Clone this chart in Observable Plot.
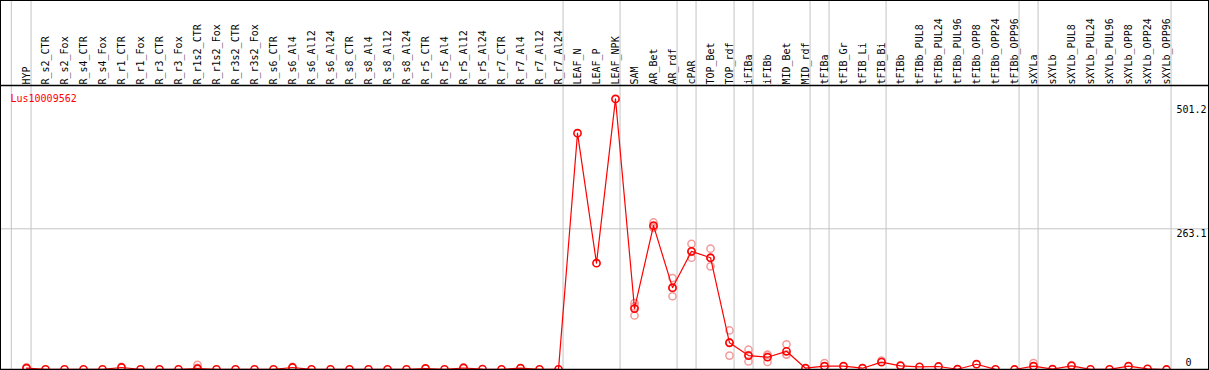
<!DOCTYPE html>
<html><head><meta charset="utf-8">
<script src="https://cdn.jsdelivr.net/npm/d3@7"></script>
<script src="https://cdn.jsdelivr.net/npm/@observablehq/plot@0.6"></script>
<style>
html,body{margin:0;padding:0;background:#fff;}
#chart svg{display:block;}
</style></head><body><div id="chart"></div>
<script>
const geneId = "Lus10009562";
const samples = ["HYP","R_s2_CTR","R_s2_Fox","R_s4_CTR","R_s4_Fox","R_r1_CTR","R_r1_Fox","R_r3_CTR","R_r3_Fox",
  "R_r1s2_CTR","R_r1s2_Fox","R_r3s2_CTR","R_r3s2_Fox","R_s6_CTR","R_s6_Al4","R_s6_Al12","R_s6_Al24",
  "R_s8_CTR","R_s8_Al4","R_s8_Al12","R_s8_Al24","R_r5_CTR","R_r5_Al4","R_r5_Al12","R_r5_Al24",
  "R_r7_CTR","R_r7_Al4","R_r7_Al12","R_r7_Al24","LEAF_N","LEAF_P","LEAF_NPK","SAM","AR_Bet","AR_rdf",
  "cPAR","TOP_Bet","TOP_rdf","iFIBa","iFIBb","MID_Bet","MID_rdf","tFIBa","tFIB_Gr","tFIB_Li","tFIB_Bi",
  "tFIBb","tFIBb_PUL8","tFIBb_PUL24","tFIBb_PUL96","tFIBb_OPP8","tFIBb_OPP24","tFIBb_OPP96",
  "sXYLa","sXYLb","sXYLb_PUL8","sXYLb_PUL24","sXYLb_PUL96","sXYLb_OPP8","sXYLb_OPP24","sXYLb_OPP96"];
const means = [2.4,0.3,0.3,0.3,0.3,3.7,0.3,0.3,0.3,
  1.5,0.3,0.3,0.3,0.3,3.7,0.3,0.3,
  0.3,0.3,0.3,0.3,1.9,0.3,2.8,0.8,
  0.3,2.4,0.3,0.3,441.9,198.8,506,114,269,153,
  221,209,50,26,23,34,2.4,6.2,6.2,2.4,13.7,
  6.9,5,5.6,0.5,9.9,0.2,0,
  6.2,0.6,6.9,0.2,0.2,6.2,1.3,0];
const repSamples = ["HYP","R_r1_CTR","R_r1s2_CTR","R_r1s2_CTR","R_s6_Al4","R_r5_Al12",
  "SAM","SAM","SAM","AR_Bet","AR_Bet","AR_Bet","AR_rdf","AR_rdf","AR_rdf",
  "cPAR","cPAR","cPAR","TOP_Bet","TOP_Bet","TOP_Bet","TOP_rdf","TOP_rdf","TOP_rdf",
  "iFIBa","iFIBa","iFIBa","iFIBb","iFIBb","iFIBb","MID_Bet","MID_Bet","MID_Bet",
  "tFIBa","tFIB_Bi","tFIBb","sXYLa","sXYLb_PUL8"];
const repValues = [4,5,8.8,3,5,4,
  124,101,118,275,267,265,171,137,152,
  235,209,220,226,193,208,73,26,51,
  37,15,27,28,14,27,47,28,28,
  11.8,16.8,8,11.8,8];
const groupEndsAfter = ["HYP","R_r7_Al24","LEAF_NPK","AR_rdf","cPAR","TOP_rdf","iFIBa","MID_rdf",
  "tFIBa","tFIB_Bi","tFIBb_OPP96","sXYLa","sXYLb_OPP96"];
const yTickValues = [501.2, 263.1, 0];
const yTickLabels = ["501.2", "263.1", "0"];

const meanData = samples.map((s, i) => ({i, s, v: means[i]}));
const repData = repSamples.map((s, k) => ({i: samples.indexOf(s), v: repValues[k]}));
const sepData = [-0.8, ...groupEndsAfter.map(s => samples.indexOf(s) + 0.24)];
const tick = (k) => ({v: yTickValues[k], t: yTickLabels[k]});

const chart = Plot.plot({
  width: 1209, height: 370,
  marginTop: 0, marginLeft: 0, marginRight: 1, marginBottom: 1,
  style: {fontFamily: "'DejaVu Sans Mono', monospace", fontSize: "10px", background: "#fff"},
  x: {domain: [0, samples.length - 1], range: [26, 1166], axis: null},
  y: {domain: [0, 501.2], range: [369, 101], axis: null},
  marks: [
    Plot.ruleX(sepData, {x: d => d, stroke: "#c4c4c4", strokeWidth: 1}),
    Plot.ruleY([yTickValues[1]], {stroke: "#c4c4c4", strokeWidth: 1}),
    Plot.text(samples, {x: (d, i) => i, frameAnchor: "top", rotate: -90, textAnchor: "start",
      lineAnchor: "middle", dy: 84, fill: "black"}),
    Plot.text([geneId], {frameAnchor: "top-left", dx: 10, dy: 101, lineAnchor: "bottom", fill: "red"}),
    Plot.text([tick(0)], {y: "v", text: "t", frameAnchor: "right", textAnchor: "end", lineAnchor: "top", dx: -2, dy: 4, fill: "black"}),
    Plot.text([tick(1)], {y: "v", text: "t", frameAnchor: "right", textAnchor: "end", lineAnchor: "top", dx: -2, dy: 1, fill: "black"}),
    Plot.text([tick(2)], {y: "v", text: "t", frameAnchor: "right", textAnchor: "end", lineAnchor: "bottom", dx: -17, dy: -4, fill: "black"}),
    Plot.dot(repData, {x: "i", y: "v", r: 3.6, stroke: "#f29a9a", strokeWidth: 1.5, fill: "none"}),
    Plot.line(meanData, {x: "i", y: "v", stroke: "red", strokeWidth: 1.2}),
    Plot.dot(meanData, {x: "i", y: "v", r: 3.6, stroke: "red", strokeWidth: 1.6, fill: "none"}),
    Plot.ruleY([0], {stroke: "black", strokeWidth: 1.5}),
    Plot.frame({stroke: "black"})
  ]
});
d3.select(chart).append("line")
  .attr("x1", 0).attr("x2", 1208).attr("y1", 85.5).attr("y2", 85.5)
  .attr("stroke", "black").attr("stroke-width", 1.5);
document.getElementById("chart").appendChild(chart);
</script></body></html>
